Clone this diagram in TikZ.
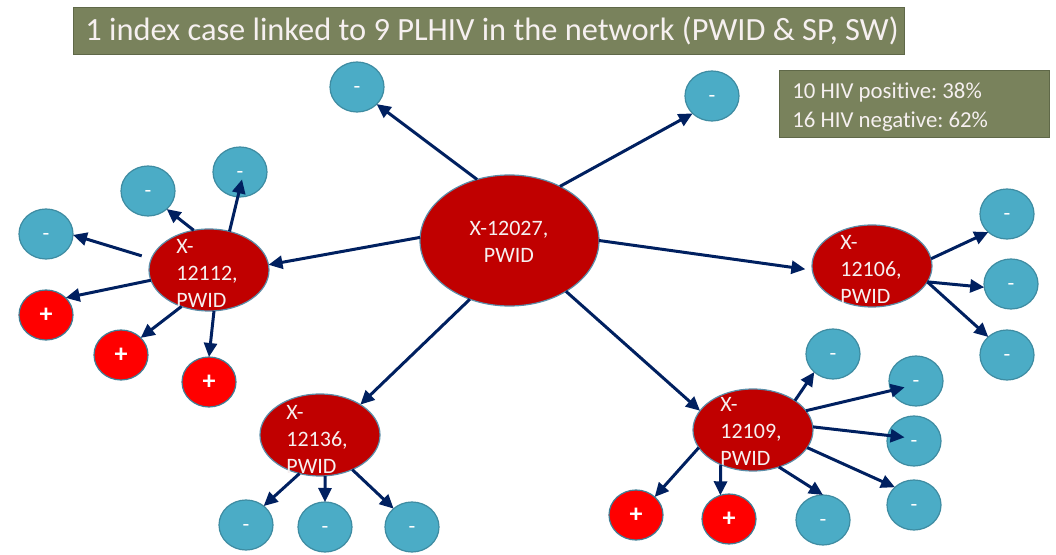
\documentclass[tikz,border=0pt]{standalone}
\usepackage{fontspec}
\setmainfont{Carlito}[Ligatures=NoCommon]
\frenchspacing
\usetikzlibrary{shapes.geometric,arrows.meta}
\definecolor{navy}{HTML}{002060}
\definecolor{casered}{HTML}{C00000}
\definecolor{caseedge}{HTML}{5B8DA8}
\definecolor{negblue}{HTML}{4BACC6}
\definecolor{negedge}{HTML}{3E8CA2}
\definecolor{posred}{HTML}{FF0000}
\definecolor{posedge}{HTML}{3F7F96}
\definecolor{olive}{HTML}{79825C}
\definecolor{oliveedge}{HTML}{5F6848}
\definecolor{softwhite}{HTML}{F6F0F0}
\begin{document}
\begin{tikzpicture}[x=0.5pt,y=-0.5pt,
  caseid/.style={ellipse, fill=casered, draw=caseedge, line width=0.6pt,
    inner sep=0pt, outer sep=0pt, minimum width=60pt, minimum height=41pt},
  contact/.style={ellipse, line width=0.6pt, inner sep=0pt, outer sep=0pt,
    minimum width=27pt, minimum height=25pt, text=white},
  negbox/.style={contact, fill=negblue, draw=negedge,
    font=\fontsize{11}{13}\selectfont, text height=6.8pt, text depth=0pt},
  posbox/.style={contact, fill=posred, draw=posedge,
    font=\bfseries\fontsize{13}{15}\selectfont},
  idtext/.style={text=softwhite, align=left, inner sep=0pt, anchor=west,
    font=\fontsize{11}{13.5}\selectfont},
  panel/.style={rectangle, fill=olive, draw=oliveedge, line width=0.5pt,
    anchor=north west, inner sep=0pt},
  paneltext/.style={text=softwhite, align=left, inner sep=0pt, anchor=west},
  link/.style={draw=navy, line width=1.5pt, -{Triangle[length=7pt,width=6.5pt]}}]
\useasboundingbox (0,0) rectangle (1056,555);

% heading panel
\node[panel, minimum width=415.5pt, minimum height=23.5pt] (title) at (73,7) {};
\node[paneltext, font=\fontsize{16.2}{19}\selectfont] (titletext) at (85,31)
  {1 index case linked to 9 PLHIV in the network (PWID \& SP, SW)};
% summary panel
\node[panel, minimum width=135pt, minimum height=33.5pt] (summary) at (779,70) {};
\node[paneltext, font=\fontsize{11.4}{14.5}\selectfont] (summarytext) at (792,107)
  {10 HIV positive: 38\%\\16 HIV negative: 62\%};

% index case and linked cases
\node[caseid, minimum width=89.5pt, minimum height=65.5pt] (c027) at (509.5,240.5) {};
\node[idtext, anchor=center, align=center] (t027) at (509,242) {X-12027,\\PWID};
\node[caseid] (c112) at (209,270) {};
\node[idtext] (t112) at (176,273) {X-\\12112,\\PWID};
\node[caseid] (c106) at (872,266) {};
\node[idtext] (t106) at (840,269) {X-\\12106,\\PWID};
\node[caseid] (c109) at (753,430) {};
\node[idtext] (t109) at (720,431) {X-\\12109,\\PWID};
\node[caseid] (c136) at (320,435) {};
\node[idtext] (t136) at (286,439) {X-\\12136,\\PWID};

% contacts of the index case
\node[negbox] (n027a) at (357,87) {-};
\node[negbox] (n027b) at (712,96) {-};
% contacts of X-12112
\node[negbox] (n112a) at (46,234) {-};
\node[negbox] (n112b) at (148,191) {-};
\node[negbox] (n112c) at (240,172) {-};
\node[posbox] (p112a) at (46,315) {+};
\node[posbox] (p112b) at (121,355) {+};
\node[posbox] (p112c) at (209,382) {+};
% contacts of X-12106
\node[negbox] (n106a) at (1007,214) {-};
\node[negbox] (n106b) at (1011,284) {-};
\node[negbox] (n106c) at (1007,355) {-};
% contacts of X-12109
\node[negbox] (n109a) at (833,354) {-};
\node[negbox] (n109b) at (916,381) {-};
\node[negbox] (n109c) at (914,441) {-};
\node[negbox] (n109d) at (914,505) {-};
\node[negbox] (n109e) at (823,520) {-};
\node[posbox] (p109a) at (636,515) {+};
\node[posbox] (p109b) at (729,519) {+};
% contacts of X-12136
\node[negbox] (n136a) at (246,525) {-};
\node[negbox] (n136b) at (325,527) {-};
\node[negbox] (n136c) at (412,527) {-};

% links from the index case
\draw[link] (c027.118) -- (n027a.-41);
\draw[link] (c027.47) -- (n027b.222);
\draw[link] (c027.178) -- (c112.5);
\draw[link, shorten >=3.5pt] (c027.0) -- (c106.184);
\draw[link] (c027.236) -- (c136.37);
\draw[link] (c027.-42) -- (c109.160);
% links from X-12112
\draw[link, shorten <=5pt] (c112.169) -- (n112a.-2);
\draw[link] (c112.111) -- (n112b.-44);
\draw[link, shorten >=-9pt] (c112.62) -- (n112c.-95);
\draw[link] (c112.190) -- (p112a.41);
\draw[link] (c112.233) -- (p112b.41);
\draw[link] (c112.-83) -- (p112c.90);
% links from X-12106
\draw[link] (c106.7) -- (n106a.224);
\draw[link] (c106.-16) -- (n106b.187);
\draw[link] (c106.-16) -- (n106c.136);
% links from X-12109
\draw[link] (c109.35) -- (n109a.224);
\draw[link, shorten >=-7pt] (c109.20) -- (n109b.201);
\draw[link, shorten >=-8.5pt] (c109.3) -- (n109c.168);
\draw[link] (c109.-18) -- (n109d.137);
\draw[link] (c109.-55) -- (n109e.90);
\draw[link] (c109.198) -- (p109a.44);
\draw[link] (c109.-133) -- (p109b.110);
% links from X-12136
\draw[link] (c136.-118) -- (n136a.47);
\draw[link] (c136.-83) -- (n136b.90);
\draw[link] (c136.-47) -- (n136c.135);
\end{tikzpicture}
\end{document}
